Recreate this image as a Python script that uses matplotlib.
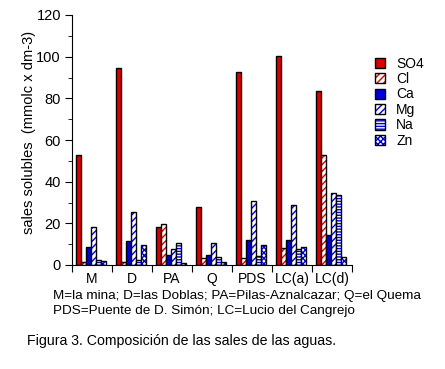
import numpy as np
import matplotlib.pyplot as plt

sitios = ['M', 'D', 'PA', 'Q', 'PDS', 'LC(a)', 'LC(d)']
so4 = [52.8, 94.5, 18.2, 27.7, 92.6, 100.3, 83.5]
cl = [1.5, 1.3, 19.6, 3.6, 3.6, 8.0, 52.8]
ca = [8.6, 11.4, 4.7, 4.6, 11.9, 11.9, 14.3]
mg = [18.2, 25.4, 7.5, 10.8, 30.5, 28.6, 34.5]
na = [2.2, 2.2, 10.4, 3.7, 4.2, 7.5, 33.5]
zn = [1.7, 9.5, 0.8, 1.3, 9.5, 8.5, 4.0]

series = [('SO4', so4), ('Cl', cl), ('Ca', ca), ('Mg', mg), ('Na', na), ('Zn', zn)]
# relleno, trama, color de la trama
estilos = [('#dd0000', None, None),
           ('white', '/////', '#dd0000'),
           ('#0000dd', None, None),
           ('white', '/////', '#0000dd'),
           ('white', '------', '#0000dd'),
           ('white', 'xxxxxx', '#0000dd')]

plt.rcParams['font.family'] = ['Liberation Sans', 'DejaVu Sans']
plt.rcParams['hatch.linewidth'] = 1.0

fig = plt.figure(figsize=(4.45, 3.69), dpi=100)
ax = fig.add_axes([72/445, 1 - 265/369, 280/445, 250/369])

x = np.arange(len(sitios))
w = 0.125
handles = []
for i, ((nombre, vals), (fc, hatch, hc)) in enumerate(zip(series, estilos)):
    pos = x + 0.09 + i * w
    if hatch:
        ax.bar(pos, vals, w, align='edge', color=fc, edgecolor=hc, hatch=hatch, linewidth=0)
        ax.bar(pos, vals, w, align='edge', fill=False, edgecolor='black', linewidth=1)
    else:
        ax.bar(pos, vals, w, align='edge', color=fc, edgecolor='black', linewidth=1)
    h = plt.Rectangle((0, 0), 1, 1, facecolor=fc, edgecolor=hc if hc else fc,
                      hatch=hatch, linewidth=0)
    hb = plt.Rectangle((0, 0), 1, 1, fill=False, edgecolor='black', linewidth=1)
    handles.append((h, hb))

ax.set_xlim(0, len(sitios))
ax.set_ylim(0, 120)
ax.set_yticks(np.arange(0, 121, 20))
ax.set_yticks(np.arange(10, 120, 20), minor=True)
ax.set_xticks(np.arange(0, len(sitios) + 1))
ax.set_xticklabels([])
ax.set_xticks(x + 0.5, minor=True)
ax.set_xticklabels(sitios, minor=True, fontsize=10)
ax.tick_params(axis='x', which='minor', length=0, pad=5)
ax.tick_params(axis='x', which='major', length=5, direction='out')
ax.tick_params(axis='y', which='major', length=5, labelsize=10.5, pad=3)
ax.tick_params(axis='y', which='minor', length=3)
for s in ['top', 'right']:
    ax.spines[s].set_visible(False)
ax.set_ylabel('sales solubles  (mmolc x dm-3)', fontsize=10.5)
ax.yaxis.set_label_coords(-0.13, 0.53)

fig.legend(handles, [n for n, _ in series], loc='upper left',
           bbox_to_anchor=(365/445, 1 - 47/369), frameon=False, fontsize=10,
           handlelength=0.75, handleheight=0.75, labelspacing=0.1, handletextpad=0.8,
           borderpad=0.2)

fig.text(53/445, 1 - 296/369, 'M=la mina; D=las Doblas; PA=Pilas-Aznalcazar; Q=el Quema',
         fontsize=9.7, va='center')
fig.text(53/445, 1 - 311/369, 'PDS=Puente de D. Simón; LC=Lucio del Cangrejo',
         fontsize=9.7, va='center')
fig.text(27/445, 1 - 341/369, 'Figura 3. Composición de las sales de las aguas.',
         fontsize=10.2, va='center')

fig.savefig('out.png', dpi=100)
